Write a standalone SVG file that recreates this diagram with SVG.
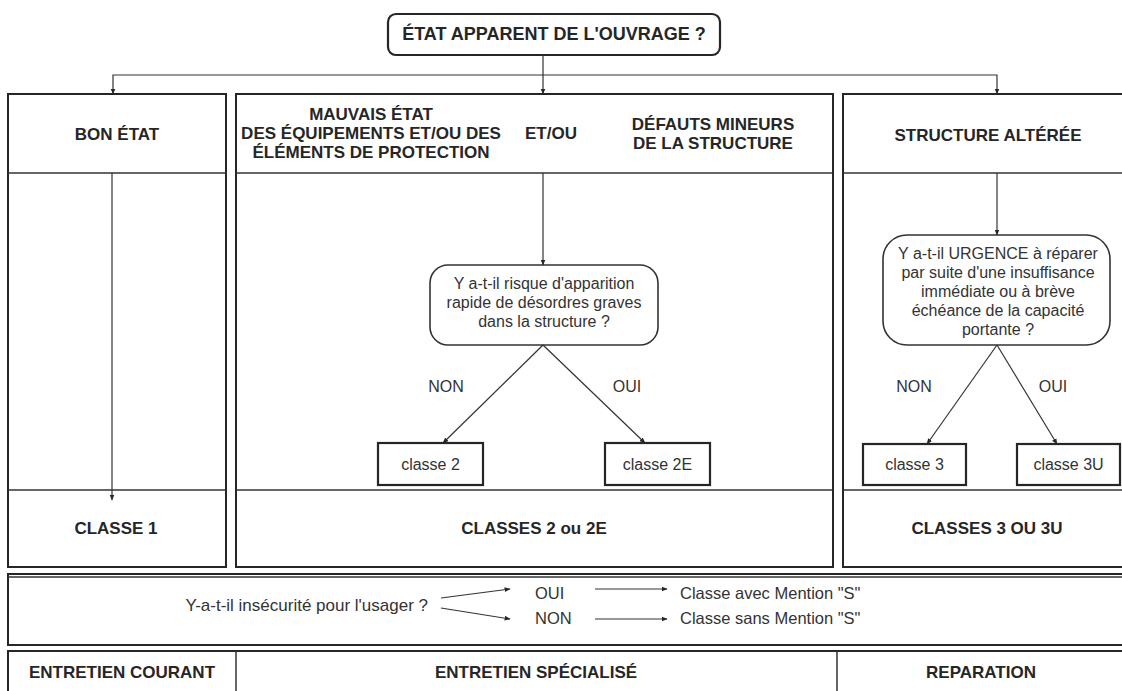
<svg xmlns="http://www.w3.org/2000/svg" width="1122" height="691" viewBox="0 0 1122 691">
  <style>
    .bg { fill: #ffffff; }
    .frame { fill: none; stroke: #262626; stroke-width: 2; }
    .sep { fill: none; stroke: #333333; stroke-width: 1.5; }
    .box { fill: #ffffff; stroke: #262626; stroke-width: 2.2; }
    .ask { fill: #ffffff; stroke: #333333; stroke-width: 1.6; }
    .wire { fill: none; stroke: #333333; stroke-width: 1.2; marker-end: url(#tip); }
    .hd { font-family: "Liberation Sans", Arial, sans-serif; font-weight: bold; font-size: 17px; fill: #262626; text-anchor: middle; }
    .ttl { font-family: "Liberation Sans", Arial, sans-serif; font-weight: bold; font-size: 18px; fill: #262626; text-anchor: middle; }
    .tx { font-family: "Liberation Sans", Arial, sans-serif; font-size: 16px; fill: #333333; text-anchor: middle; }
    .txl { font-family: "Liberation Sans", Arial, sans-serif; font-size: 16.5px; fill: #333333; }
    .q { font-size: 17px; text-anchor: end; }
  </style>
  <defs>
    <marker id="tip" viewBox="0 0 10 10" refX="9" refY="5" markerWidth="6" markerHeight="6" markerUnits="userSpaceOnUse" orient="auto">
      <path d="M0 1 L10 5 L0 9 Z" fill="#262626"/>
    </marker>
  </defs>

  <rect class="bg" x="0" y="0" width="1122" height="691"/>

  <!-- question at the top -->
  <g id="question-etat">
    <rect class="box" x="388" y="14" width="332" height="41" rx="8"/>
    <text class="ttl" x="554" y="40">ÉTAT APPARENT DE L'OUVRAGE ?</text>
  </g>

  <!-- left column -->
  <g id="col-bon-etat">
    <rect class="frame" x="8" y="94" width="218" height="473"/>
    <line class="sep" x1="8" y1="173" x2="226" y2="173"/>
    <line class="sep" x1="8" y1="490" x2="226" y2="490"/>
    <text class="hd" x="117" y="140">BON ÉTAT</text>
    <text class="hd" x="116" y="534">CLASSE 1</text>
  </g>

  <!-- middle column -->
  <g id="col-mauvais-etat">
    <rect class="frame" x="236" y="94" width="597" height="473"/>
    <line class="sep" x1="236" y1="173" x2="833" y2="173"/>
    <line class="sep" x1="236" y1="490" x2="833" y2="490"/>
    <text class="hd" x="371" y="120">MAUVAIS ÉTAT</text>
    <text class="hd" x="371" y="139">DES ÉQUIPEMENTS ET/OU DES</text>
    <text class="hd" x="371" y="158">ÉLÉMENTS DE PROTECTION</text>
    <text class="hd" x="551" y="139">ET/OU</text>
    <text class="hd" x="713" y="130">DÉFAUTS MINEURS</text>
    <text class="hd" x="713" y="149">DE LA STRUCTURE</text>
    <text class="hd" x="534" y="534">CLASSES 2 ou 2E</text>
  </g>

  <g id="ask-risque">
    <rect class="ask" x="430" y="265" width="228" height="80" rx="18"/>
    <text class="tx" x="544" y="289">Y a-t-il risque d'apparition</text>
    <text class="tx" x="544" y="308">rapide de désordres graves</text>
    <text class="tx" x="544" y="327">dans la structure ?</text>
  </g>

  <g id="classe-2">
    <rect class="box" x="378" y="443" width="105" height="42"/>
    <text class="tx" x="430.5" y="470">classe 2</text>
  </g>

  <g id="classe-2e">
    <rect class="box" x="605" y="443" width="105" height="42"/>
    <text class="tx" x="657.5" y="470">classe 2E</text>
  </g>

  <!-- right column -->
  <g id="col-structure-alteree">
    <rect class="frame" x="843" y="94" width="290" height="473"/>
    <line class="sep" x1="843" y1="173" x2="1133" y2="173"/>
    <line class="sep" x1="843" y1="490" x2="1133" y2="490"/>
    <text class="hd" x="988" y="141">STRUCTURE ALTÉRÉE</text>
    <text class="hd" x="987" y="534">CLASSES 3 OU 3U</text>
  </g>

  <g id="ask-urgence">
    <rect class="ask" x="883" y="235" width="227" height="110" rx="24"/>
    <text class="tx" x="998" y="259">Y a-t-il URGENCE à réparer</text>
    <text class="tx" x="998" y="278">par suite d'une insuffisance</text>
    <text class="tx" x="998" y="297">immédiate ou à brève</text>
    <text class="tx" x="998" y="316">échéance de la capacité</text>
    <text class="tx" x="998" y="335">portante ?</text>
  </g>

  <g id="classe-3">
    <rect class="box" x="863" y="444" width="103" height="41"/>
    <text class="tx" x="914.5" y="470">classe 3</text>
  </g>

  <g id="classe-3u">
    <rect class="box" x="1017" y="444" width="103" height="41"/>
    <text class="tx" x="1068.5" y="470">classe 3U</text>
  </g>

  <!-- branch labels -->
  <g id="branch-labels">
    <text class="tx" x="446" y="392">NON</text>
    <text class="tx" x="627" y="392">OUI</text>
    <text class="tx" x="914" y="392">NON</text>
    <text class="tx" x="1053" y="392">OUI</text>
  </g>

  <!-- safety panel -->
  <g id="panel-securite">
    <rect class="frame" x="8" y="574" width="1125" height="71"/>
    <line class="sep" x1="8" y1="577" x2="1133" y2="577"/>
    <text class="txl q" x="428" y="611">Y-a-t-il insécurité pour l'usager ?</text>
    <text class="txl" x="535" y="599">OUI</text>
    <text class="txl" x="535" y="624">NON</text>
    <text class="txl" x="680" y="599">Classe avec Mention "S"</text>
    <text class="txl" x="680" y="624">Classe sans Mention "S"</text>
  </g>

  <!-- maintenance row -->
  <g id="row-entretien">
    <rect class="frame" x="8" y="651" width="1125" height="50"/>
    <line class="sep" x1="236" y1="651" x2="236" y2="691"/>
    <line class="sep" x1="837" y1="651" x2="837" y2="691"/>
    <text class="hd" x="122" y="678">ENTRETIEN COURANT</text>
    <text class="hd" x="536" y="678">ENTRETIEN SPÉCIALISÉ</text>
    <text class="hd" x="981" y="678">REPARATION</text>
  </g>

  <!-- connectors -->
  <g id="connectors">
    <path class="wire" d="M543 55 V94"/>
    <path class="wire" d="M543 75 H113 V94"/>
    <path class="wire" d="M543 75 H997 V94"/>
    <path class="wire" d="M112 173 V500"/>
    <path class="wire" d="M543 173 V265"/>
    <path class="wire" d="M997 173 V235"/>
    <path class="wire" d="M543 345 L443 443"/>
    <path class="wire" d="M543 345 L645 443"/>
    <path class="wire" d="M997 345 L927 444"/>
    <path class="wire" d="M997 345 L1057 444"/>
    <path class="wire" d="M441 598 L510 589"/>
    <path class="wire" d="M441 608 L510 619"/>
    <path class="wire" d="M595 589 H667"/>
    <path class="wire" d="M595 619 H667"/>
  </g>
</svg>
